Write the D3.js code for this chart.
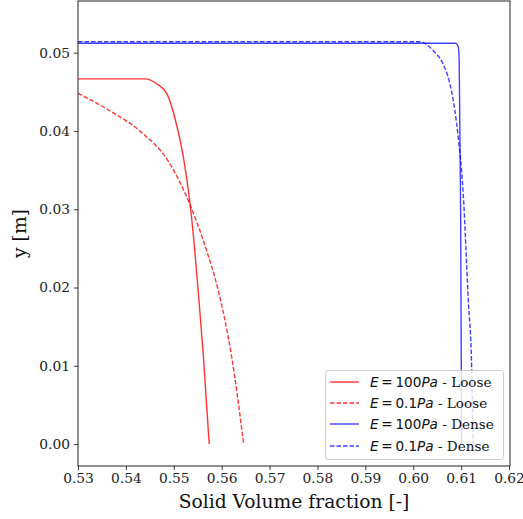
<!DOCTYPE html>
<html>
<head>
<meta charset="utf-8">
<script src="https://cdn.jsdelivr.net/npm/d3@7"></script>
<style>
  html, body { margin: 0; padding: 0; background: #fff; }
  svg { display: block; }
</style>
</head>
<body>
<svg id="chart" width="523" height="519"></svg>
<script>
// ---- data ----
const xTicks = [0.53, 0.54, 0.55, 0.56, 0.57, 0.58, 0.59, 0.60, 0.61, 0.62];
const yTicks = [0.00, 0.01, 0.02, 0.03, 0.04, 0.05];

const looseE100_x = [0.5300, 0.5440, 0.5465, 0.5486, 0.5503, 0.5520, 0.5534, 0.5542, 0.5551, 0.5562, 0.5574];
const looseE100_y = [0.04665, 0.04665, 0.0460, 0.0447, 0.0415, 0.0367, 0.0307, 0.0260, 0.0196, 0.0111, 0.0000];

const looseE01_x = [0.5300, 0.5366, 0.5433, 0.5490, 0.5533, 0.5567, 0.5593, 0.5621, 0.5646];
const looseE01_y = [0.0448, 0.0426, 0.0398, 0.0360, 0.0307, 0.0250, 0.0196, 0.0111, 0.0000];

const denseE100_x = [0.530, 0.6089, 0.6094, 0.6096, 0.6099, 0.6101];
const denseE100_y = [0.0512, 0.0512, 0.0508, 0.0490, 0.0300, 0.0000];

const denseE01_x = [0.530, 0.6014, 0.6041, 0.6062, 0.6075, 0.6087, 0.6094, 0.6104, 0.6115, 0.6122, 0.6125];
const denseE01_y = [0.0514, 0.0514, 0.0503, 0.0486, 0.0464, 0.0426, 0.0392, 0.0324, 0.0184, 0.0098, 0.0000];

const seriesNames = ["100", "0.1", "100", "0.1"];
const seriesKind = ["Loose", "Loose", "Dense", "Dense"];

// ---- layout ----
const svg = d3.select("#chart");
const mLeft = 78, mRight = 510, mTop = 1, mBottom = 466;
const serifFont = "'DejaVu Serif', 'Liberation Serif', serif";

const x = d3.scaleLinear().domain([0.53, 0.62]).range([mLeft, mRight - 1]);
const y = d3.scaleLinear().domain([-0.0028, 0.0566]).range([mBottom, mTop]);

const series = [
  { xs: looseE100_x, ys: looseE100_y, color: "#ff0000", opacity: 0.8, dash: null },
  { xs: looseE01_x, ys: looseE01_y, color: "#ff0000", opacity: 0.8, dash: "4.5,2" },
  { xs: denseE100_x, ys: denseE100_y, color: "#0000ff", opacity: 0.75, dash: null },
  { xs: denseE01_x, ys: denseE01_y, color: "#0000ff", opacity: 0.75, dash: "4.5,2" }
];

const line = d3.line()
  .x(d => x(d[0]))
  .y(d => y(d[1]))
  .curve(d3.curveMonotoneX);

const plot = svg.append("g");
series.forEach(s => {
  const pts = s.xs.map((v, i) => [v, s.ys[i]]);
  plot.append("path")
    .attr("d", line(pts))
    .attr("fill", "none")
    .attr("stroke", s.color)
    .attr("stroke-opacity", s.opacity)
    .attr("stroke-width", 1.4)
    .attr("stroke-dasharray", s.dash);
});

// ---- axes ----
const xAxis = d3.axisBottom(x).tickValues(xTicks).tickFormat(d3.format(".2f")).tickSize(4).tickPadding(3);
const yAxis = d3.axisLeft(y).tickValues(yTicks).tickFormat(d3.format(".2f")).tickSize(4).tickPadding(4);

const gx = svg.append("g").attr("transform", `translate(0,${mBottom})`).call(xAxis);
const gy = svg.append("g").attr("transform", `translate(${mLeft},0)`).call(yAxis);
[gx, gy].forEach(g => {
  g.attr("font-family", serifFont).attr("font-size", 13.8);
  g.select(".domain").remove();
  g.selectAll(".tick line").attr("stroke", "#222").attr("stroke-width", 0.9);
  g.selectAll(".tick text").attr("fill", "#222");
});

// frame
svg.append("rect")
  .attr("x", mLeft).attr("y", mTop)
  .attr("width", mRight - mLeft).attr("height", mBottom - mTop)
  .attr("fill", "none").attr("stroke", "#222").attr("stroke-width", 1);

// axis labels
svg.append("text")
  .attr("x", (mLeft + mRight) / 2).attr("y", 508)
  .attr("text-anchor", "middle")
  .attr("font-family", serifFont).attr("font-size", 18.7).attr("fill", "#111")
  .text("Solid Volume fraction [-]");

svg.append("text")
  .attr("transform", `translate(26,${(mTop + mBottom) / 2}) rotate(-90)`)
  .attr("text-anchor", "middle")
  .attr("font-family", serifFont).attr("font-size", 18.7).attr("fill", "#111")
  .text("y [m]");

// ---- legend ----
const lg = svg.append("g");
lg.append("rect")
  .attr("x", 325.5).attr("y", 370.5).attr("width", 178).attr("height", 89)
  .attr("rx", 3).attr("ry", 3)
  .attr("fill", "#fff").attr("fill-opacity", 0.8)
  .attr("stroke", "#cccccc").attr("stroke-width", 1);

const rowY = [382, 403, 424, 446];
series.forEach((s, i) => {
  const yy = rowY[i];
  lg.append("line")
    .attr("x1", 330).attr("x2", 359).attr("y1", yy).attr("y2", yy)
    .attr("stroke", s.color).attr("stroke-opacity", s.opacity)
    .attr("stroke-width", 1.4).attr("stroke-dasharray", s.dash);
  const t = lg.append("text")
    .attr("x", 370).attr("y", yy + 5)
    .attr("font-size", 13.6).attr("fill", "#111");
  t.append("tspan").attr("font-family", "DejaVu Sans").attr("font-style", "italic").text("E");
  t.append("tspan").attr("font-family", "DejaVu Sans").text("\u2009=\u2009" + seriesNames[i]);
  t.append("tspan").attr("font-family", "DejaVu Sans").attr("font-style", "italic").text("Pa");
  t.append("tspan").attr("font-family", serifFont).attr("font-size", 13.6).text(" - " + seriesKind[i]);
});
</script>
</body>
</html>
